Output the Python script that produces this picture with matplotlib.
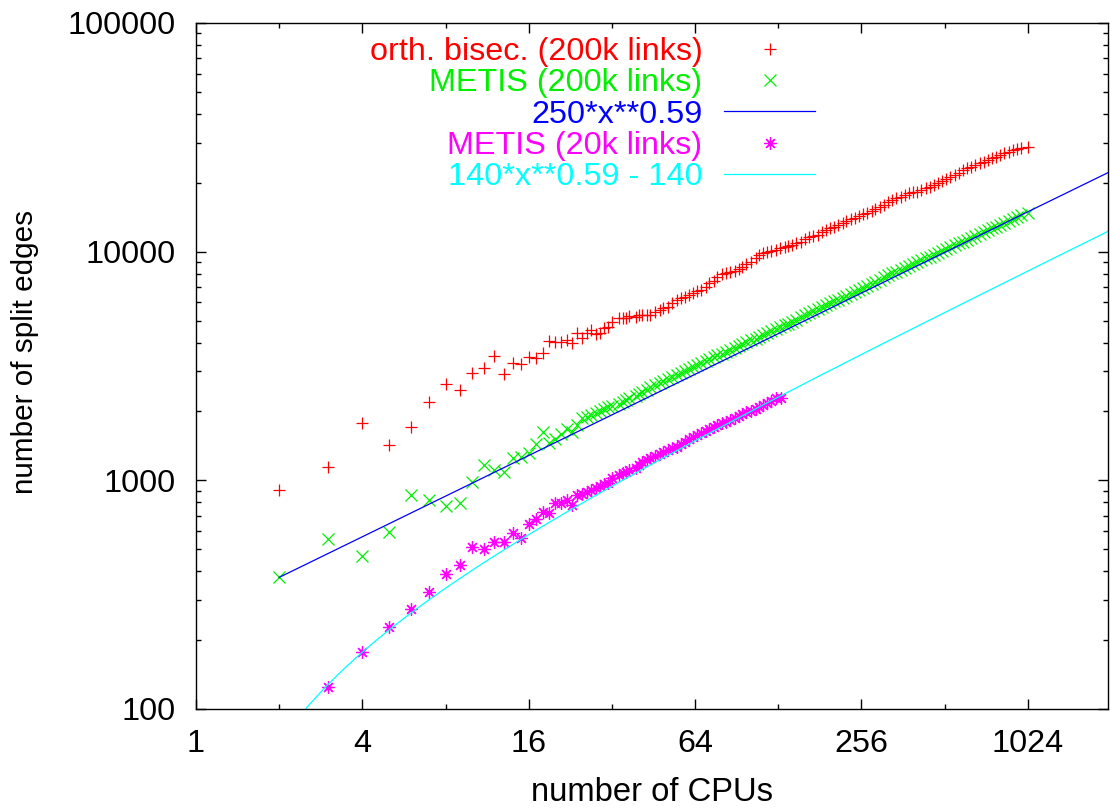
import numpy as np
import matplotlib
matplotlib.use("Agg")
import matplotlib.pyplot as plt
from matplotlib.ticker import LogLocator, NullFormatter, FixedLocator, FixedFormatter

plt.rcParams['font.family'] = ['Liberation Sans', 'DejaVu Sans']

# CPU counts: single points for small counts, then two
# interleaved sets of readings along the dense band
cpus_small = [2, 3, 4, 5, 6, 7, 8, 9, 10, 11, 12, 13, 14, 15, 16, 17, 18, 19, 20, 21, 22, 23, 24]
cpus_band = [25, 27, 29, 31, 34, 36, 39, 41, 44, 48, 51, 55, 59, 63, 67, 72, 77, 83, 89, 95,
             102, 109, 117, 126, 135, 144, 155, 166, 178, 190, 204, 219, 234, 251, 269, 288, 309, 331, 355, 380,
             408, 437, 468, 502, 538, 576, 618, 662, 710, 760, 815, 873, 936, 1024]
cpus_band2 = [26, 28, 30, 32, 35, 37, 40, 43, 46, 49, 53, 57, 61, 65, 70, 75, 80, 86, 92, 98,
              106, 113, 121, 130, 139, 149, 160, 171, 184, 197, 211, 226, 243, 260, 279, 299, 320, 343, 368, 394,
              422, 453, 485, 520, 557, 597, 640, 686, 735, 788, 844, 905, 970]

# orth. bisec. (200k links)
orth_small = [908, 1143, 1780, 1426, 1714, 2193, 2631, 2484, 2952, 3104, 3491, 2905, 3250, 3228, 3468,
              3414, 3590, 4076, 4011, 4030, 4090, 3990, 4404]
orth_band = [4177, 4542, 4392, 4697, 5108, 5108, 5160, 5283, 5283, 5555,
             5745, 6143, 6352, 6613, 6793, 7263, 7721, 8035, 8253, 8593,
             9036, 9663, 9993, 10160, 10510, 10690, 11050, 11550, 11820, 12430,
             12850, 13380, 13840, 14310, 14800, 15300, 15990, 16810, 17390, 17980,
             18290, 18910, 19560, 20430, 21270, 22140, 23130, 23920, 24740, 25580,
             26450, 27350, 28010, 28760]
orth_band2 = [4421, 4362, 4618, 4940, 5108, 5229, 5283, 5265, 5464, 5688,
              5977, 6245, 6458, 6703, 7025, 7465, 7982, 8116, 8419, 8826,
              9346, 9892, 10090, 10330, 10610, 10870, 11310, 11700, 12140, 12640,
              13120, 13610, 14080, 14550, 15050, 15620, 16420, 17100, 17680, 18160,
              18590, 19230, 20020, 20840, 21700, 22670, 23520, 24320, 25150, 26010,
              26900, 27720, 28380]

# METIS (200k links)
metis_small = [377, 552, 467, 596, 863, 820, 774, 793, 986, 1166, 1110, 1090, 1247, 1268, 1311,
               1435, 1631, 1456, 1512, 1601, 1685, 1631, 1743]
metis_band = [1866, 1930, 2009, 2084, 2156, 2244, 2337, 2441, 2550, 2655,
              2764, 2887, 3016, 3140, 3247, 3381, 3519, 3651, 3789, 3945,
              4093, 4246, 4421, 4587, 4761, 4940, 5160, 5370, 5591, 5842,
              6061, 6290, 6526, 6793, 7073, 7387, 7721, 8033, 8337, 8650,
              9006, 9343, 9696, 10060, 10470, 10870, 11280, 11700, 12180, 12640,
              13120, 13610, 14170, 14700]
metis_band2 = [1898, 1970, 2046, 2120, 2200, 2290, 2389, 2495, 2602, 2709,
               2825, 2951, 3077, 3193, 3313, 3449, 3585, 3720, 3866, 4018,
               4169, 4333, 4503, 4673, 4849, 5048, 5265, 5481, 5715, 5950,
               6173, 6406, 6657, 6930, 7228, 7551, 7875, 8185, 8492, 8826,
               9173, 9520, 9876, 10260, 10670, 11070, 11490, 11940, 12410, 12870,
               13360, 13880, 14430]

# METIS (20k links)
metis20_cpus = [3, 4, 5, 6, 7, 8, 9, 10, 11, 12, 13, 14, 15, 16, 17, 18, 19, 20, 21, 22, 23, 24,
                25, 27, 29, 31, 34, 36, 39, 41, 44, 48, 51, 55, 59, 63, 67, 72, 77, 83, 89, 95,
                102, 109, 117, 126, 131]
metis20 = [125, 178, 228, 275, 324, 388, 427, 513, 499, 536, 536, 586, 557, 644, 675, 724, 717, 798,
           793, 820, 780, 863,
           871, 907, 944, 970, 1055, 1091, 1128, 1206, 1248, 1303, 1357, 1403, 1476, 1541, 1605, 1671,
           1745, 1805, 1879, 1943, 2016, 2085, 2171, 2282, 2300]
metis20_cpus2 = [26, 28, 30, 32, 35, 37, 40, 43, 46, 49, 53, 57, 61, 65, 70, 75, 80, 86, 92, 98,
                 106, 113, 121]
metis20_2 = [889, 925, 963, 1020, 1073, 1110, 1167, 1227, 1277, 1330, 1380, 1441, 1511, 1573, 1637,
             1710, 1774, 1842, 1911, 1983, 2050, 2127, 2222]

xticks = [1, 4, 16, 64, 256, 1024]
yticks = [100, 1000, 10000, 100000]

fs = 23.3

fig = plt.figure(figsize=(11.1, 8.1), dpi=100)
ax = fig.add_axes([196 / 1110, 1 - 709 / 810, (1108 - 196) / 1110, (709 - 23) / 810])

xf = np.geomspace(2, 2000, 500)

ax.plot(cpus_small + cpus_band + cpus_band2, orth_small + orth_band + orth_band2,
        linestyle='none', marker='+', ms=9, mew=0.9, color='#ff0000',
        label='orth. bisec. (200k links)')
ax.plot(cpus_small + cpus_band + cpus_band2, metis_small + metis_band + metis_band2,
        linestyle='none', marker='x', ms=8.3, mew=0.9, color='#00f000',
        label='METIS (200k links)')
ax.plot(xf, 250 * xf ** 0.59, color='#0000ff', lw=0.9, label='250*x**0.59')
ax.plot(metis20_cpus + metis20_cpus2, metis20 + metis20_2, linestyle='none', marker=(8, 2, 0),
        ms=9, mew=0.9, color='#ff00ff', label='METIS (20k links)')
ax.plot(xf, 140 * xf ** 0.59 - 140, color='#00ffff', lw=0.9, label='140*x**0.59 - 140')

ax.set_xscale('log', base=2)
ax.set_yscale('log')
ax.set_xlim(1, 2000)
ax.set_ylim(100, 100000)

ax.xaxis.set_major_locator(FixedLocator(xticks))
ax.xaxis.set_major_formatter(FixedFormatter([str(t) for t in xticks]))
ax.xaxis.set_minor_locator(FixedLocator([2, 8, 32, 128, 512]))
ax.xaxis.set_minor_formatter(NullFormatter())
ax.yaxis.set_major_locator(FixedLocator(yticks))
ax.yaxis.set_major_formatter(FixedFormatter([str(t) for t in yticks]))
ax.yaxis.set_minor_locator(LogLocator(base=10, subs=np.arange(2, 10)))
ax.yaxis.set_minor_formatter(NullFormatter())

ax.tick_params(which='both', direction='in', top=True, right=True, width=1.0, labelsize=fs)
ax.tick_params(which='major', length=7)
ax.tick_params(which='minor', length=3.8)
ax.tick_params(axis='x', pad=14.5)
ax.tick_params(axis='y', pad=15)
for s in ax.spines.values():
    s.set_linewidth(1.0)

ax.set_xlabel('number of CPUs', fontsize=23.6)
ax.set_ylabel('number of split edges', fontsize=21.4)
ax.xaxis.set_label_coords(0.5, -0.099)
ax.yaxis.set_label_coords(-0.172, 0.52)

leg = ax.legend(loc='upper right', bbox_to_anchor=(815 / 1110, 1 - 37 / 810),
                bbox_transform=fig.transFigure, frameon=False, markerfirst=False,
                fontsize=fs, handlelength=2.8, handletextpad=0.68, labelspacing=0.04,
                borderpad=0, borderaxespad=0, numpoints=1)
for txt, line in zip(leg.get_texts(), leg.get_lines()):
    txt.set_color(line.get_color())

fig.savefig('out.png', dpi=100)
